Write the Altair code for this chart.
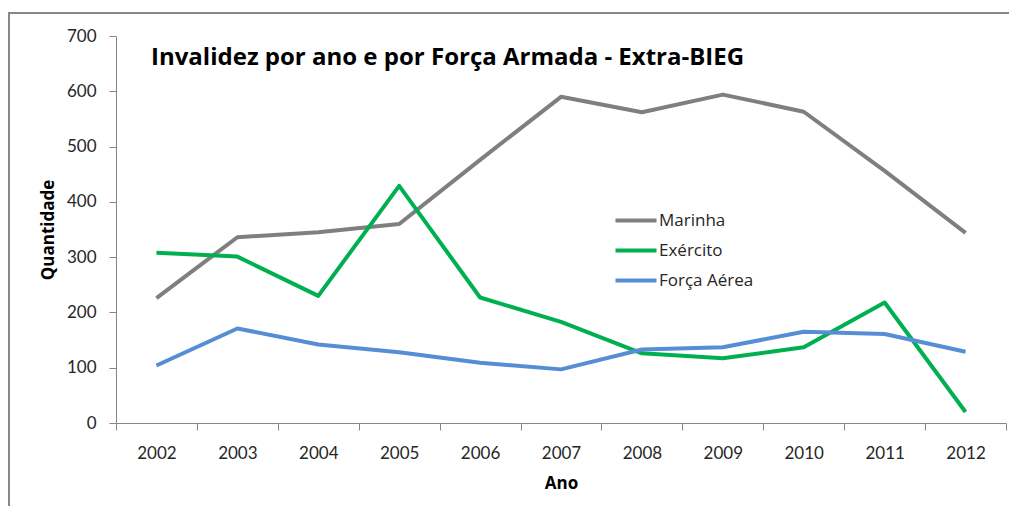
import altair as alt
import pandas as pd

anos = [2002, 2003, 2004, 2005, 2006, 2007, 2008, 2009, 2010, 2011, 2012]
marinha = [226, 336, 345, 360, 476, 590, 562, 594, 563, 456, 344]
exercito = [308, 301, 230, 429, 227, 183, 126, 117, 137, 218, 20]
forca_aerea = [104, 171, 142, 128, 109, 97, 133, 137, 165, 161, 129]
series = ["Marinha", "Exército", "Força Aérea"]
cores = ["#7F7F7F", "#00B050", "#558ED5"]
titulo = "Invalidez por ano e por Força Armada - Extra-BIEG"
y_ticks = [0, 100, 200, 300, 400, 500, 600, 700]

rows = []
for nome, vals in zip(series, [marinha, exercito, forca_aerea]):
    for a, v in zip(anos, vals):
        rows.append({"Ano": str(a), "Quantidade": v, "Série": nome})
df = pd.DataFrame(rows)

FONT = "Lato"
WIDE = "Open Sans"
AXIS_COLOR = "#868686"
TEXT_COLOR = "#262626"

border = alt.Chart(pd.DataFrame({"b": [0]})).mark_rect(
    fill="transparent", stroke="#878787", strokeWidth=2
).encode(
    x=alt.value(-107), x2=alt.value(1000), y=alt.value(-23), y2=alt.value(600)
)

lines = alt.Chart(df).mark_line(strokeWidth=4, strokeJoin="round").encode(
    x=alt.X(
        "Ano:O",
        bandPosition=0.5,
        scale=alt.Scale(type="band", paddingInner=0, paddingOuter=0),
        axis=alt.Axis(
            title="Ano", labelAngle=0, tickBand="extent", tickSize=7,
            labelPadding=15, titleY=65, titleBaseline="alphabetic",
        ),
    ),
    y=alt.Y(
        "Quantidade:Q",
        scale=alt.Scale(domain=[0, 700], nice=False),
        axis=alt.Axis(
            values=y_ticks, tickSize=7, labelPadding=13,
            titleX=-63, titleY=193.5, titleBaseline="alphabetic", titleAngle=-90,
        ),
    ),
    color=alt.Color(
        "Série:N",
        scale=alt.Scale(domain=series, range=cores),
        sort=series,
        legend=alt.Legend(
            title=None, orient="none", legendX=496, legendY=176,
            symbolType="M-1,0H7.2", symbolSize=100, symbolStrokeWidth=4,
            labelOffset=30, labelFontSize=17, labelFont=WIDE, labelColor=TEXT_COLOR,
            rowPadding=12, padding=0,
        ),
    ),
)

title = alt.Chart(pd.DataFrame({"t": [titulo]})).mark_text(
    align="left", baseline="alphabetic", font=WIDE, fontSize=24,
    fontWeight="bold", color="black"
).encode(x=alt.value(35), y=alt.value(29), text="t:N")

chart = alt.layer(border, lines, title).properties(
    width=890, height=387,
    autosize=alt.AutoSizeParams(type="none"),
    padding={"left": 108, "top": 28, "right": 3, "bottom": 83},
).configure_view(stroke=None).configure_axis(
    domainColor=AXIS_COLOR, tickColor=AXIS_COLOR, grid=False,
    labelFont=FONT, labelFontSize=17, labelColor=TEXT_COLOR,
    titleFont=WIDE, titleFontSize=17, titleFontWeight="bold", titleColor="black",
)

chart.save("out.html", embed_options={"renderer": "svg", "actions": False})
